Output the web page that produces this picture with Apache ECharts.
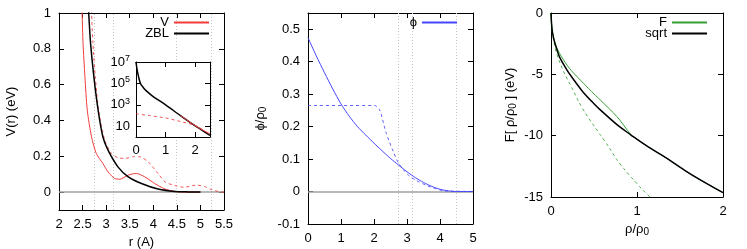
<!DOCTYPE html>
<html>
<head>
<meta charset="utf-8">
<script src="https://cdn.jsdelivr.net/npm/echarts@6/dist/echarts.min.js"></script>
<style>
html, body { margin: 0; padding: 0; background: #fff; }
#chart { width: 747px; height: 249px; }
</style>
</head>
<body>
<div id="chart"></div>
<script>
const FONT = 'Liberation Sans, Arial, sans-serif';

// left panel: pair potential V(r), ZBL and fitted curve (dashed)
const rTicks = [2, 2.5, 3, 3.5, 4, 4.5, 5, 5.5];
const vTicks = [0, 0.2, 0.4, 0.6, 0.8, 1];
const guideR = [2.74, 3.16, 4.49, 5.23];

const vR = [2.45, 2.49, 2.51, 2.55, 2.60, 2.69, 2.79, 2.93, 3.04, 3.18, 3.29, 3.47, 3.64, 3.82, 4.03, 4.25, 4.46, 4.67, 5.0];
const vVal = [1.35, 1.0, 0.83, 0.643, 0.457, 0.309, 0.216, 0.16, 0.113, 0.076, 0.072, 0.095, 0.104, 0.085, 0.048, 0.017, 0.004, 0.0, 0.0];

const zblR = [2.58, 2.63, 2.67, 2.74, 2.83, 2.93, 3.04, 3.25, 3.47, 3.75, 4.1, 4.46, 4.75, 5.0];
const zblVal = [1.25, 1.0, 0.83, 0.643, 0.457, 0.309, 0.234, 0.141, 0.085, 0.048, 0.017, 0.003, 0.001, 0];

const vFitR = [2.65, 2.69, 2.72, 2.77, 2.84, 2.97, 3.11, 3.25, 3.4, 3.6, 3.72, 3.89, 4.1, 4.25, 4.46, 4.65, 4.92, 5.1, 5.22, 5.4, 5.5];
const vFitVal = [1.25, 1.0, 0.83, 0.643, 0.457, 0.29, 0.216, 0.192, 0.188, 0.198, 0.197, 0.169, 0.104, 0.057, 0.036, 0.027, 0.039, 0.03, 0.015, 0.002, 0];

// inset (log scale)
const insTicks = [0, 1, 2];
const insZblR = [0, 0.03, 0.08, 0.15, 0.25, 0.35, 0.58, 1.0, 1.5, 2.0, 2.25, 2.5];
const insZbl = [1e7, 2.5e6, 5e5, 1e5, 4e4, 2e4, 6e3, 1e3, 100, 11, 4, 1.4];
const insVR = [1.5, 2.0, 2.25, 2.5];
const insV = [100, 11.5, 4.5, 2.0];
const insFitR = [0, 0.5, 1.0, 1.5, 2.0, 2.25, 2.5];
const insFit = [150, 95, 60, 28, 12, 5, 1.6];
const insLogTicks = [10, 1e3, 1e5, 1e7];

// middle panel: phi / rho0
const phiXTicks = [0, 1, 2, 3, 4, 5];
const phiYTicks = [-0.1, 0, 0.1, 0.2, 0.3, 0.4, 0.5];
const phiR = [0, 0.25, 0.5, 0.75, 1, 1.25, 1.5, 1.75, 2, 2.25, 2.5, 2.75, 3, 3.25, 3.5, 3.75, 4, 4.25, 4.5, 5];
const phiVal = [0.474, 0.418, 0.366, 0.316, 0.27, 0.232, 0.2, 0.174, 0.149, 0.125, 0.102, 0.081, 0.061, 0.043, 0.028, 0.016, 0.007, 0.002, 0, 0];
const phiFitR = [0, 2.02, 2.17, 2.37, 2.58, 2.73, 2.9, 3.08, 3.3, 3.59, 3.8, 3.99, 4.1, 5];
const phiFitVal = [0.265, 0.265, 0.252, 0.18, 0.124, 0.09, 0.066, 0.047, 0.033, 0.019, 0.011, 0.005, 0.002, 0];

// right panel: embedding function F
const rhoTicks = [0, 1, 2];
const fTicks = [-15, -10, -5, 0];
const rho = [0, 0.01, 0.03, 0.06, 0.1, 0.186, 0.25, 0.379, 0.5, 0.573, 0.767, 0.93, 0.96, 1.15, 1.349, 1.55, 1.736, 2];
const sqrtVal = [0, -1.2, -2.05, -2.8, -3.6, -4.65, -5.3, -6.5, -7.4, -7.9, -9.1, -9.95, -10.1, -11.0, -11.85, -12.8, -13.6, -14.65];
const fVal = [0, -1.2, -2.0, -2.7, -3.3, -4.25, -4.8, -5.74, -6.6, -7.09, -8.45, -9.93, -10.1, -11.0, -11.85, -12.8, -13.6, -14.65];
const rhoFit = [0, 0.01, 0.02, 0.05, 0.1, 0.166, 0.25, 0.32, 0.4, 0.5, 0.573, 0.67, 0.767, 0.86, 0.96, 1.05, 1.15];
const fFitVal = [0, -1.3, -1.8, -2.9, -4.0, -5.06, -6.2, -7.2, -8.17, -9.2, -9.93, -10.9, -11.97, -12.8, -13.6, -14.3, -15];

const RED = '#f03c3c';
const BLUE = '#4646ff';
const GREEN = '#34a034';

const zip = (xs, ys) => xs.map((x, i) => [x, ys[i]]);
const sub = { fontFamily: FONT, fontSize: 10, color: '#000', padding: [6, 0, 0, 0] };
const sup = { fontFamily: FONT, fontSize: 9, color: '#000', padding: [0, 0, 7, 0] };

// a pair of axes (labelled + mirrored) so ticks show on all four sides, like gnuplot
function frame(isX, gridIndex, min, max, ticks, extra, labelExtra) {
  const common = {
    type: 'value', gridIndex, min, max,
    axisLine: { show: true, onZero: false, lineStyle: { color: '#000', width: 1 } },
    axisTick: { show: true, inside: true, length: 5, customValues: ticks, lineStyle: { color: '#000' } },
    splitLine: { show: false }
  };
  const main = Object.assign({}, common, {
    position: isX ? 'bottom' : 'left',
    axisLabel: Object.assign({ customValues: ticks, color: '#000', fontFamily: FONT, fontSize: 13, margin: 8 }, labelExtra || {})
  }, extra || {});
  const mirror = Object.assign({}, common, {
    position: isX ? 'top' : 'right',
    axisLabel: { show: false }
  }, extra && extra.z ? { z: extra.z } : {});
  return [main, mirror];
}

// panel p uses axes 2p (labelled) and 2p+1 (mirror)
function line(name, xs, ys, panel, color, width, dashed, z) {
  return {
    name, type: 'line', xAxisIndex: panel * 2, yAxisIndex: panel * 2,
    data: zip(xs, ys), symbol: 'none', showSymbol: false,
    smooth: 0.25, silent: true, animation: false,
    lineStyle: { color, width, type: dashed ? [3, 3] : 'solid', opacity: dashed ? 0.85 : 1 },
    itemStyle: { color }, z: z || 2
  };
}

const nameStyle = { fontFamily: FONT, fontSize: 13, color: '#000', rich: { sub } };

const xAxes = [].concat(
  frame(true, 0, 2, 5.5, rTicks, { name: 'r (A)', nameLocation: 'middle', nameGap: 25, nameTextStyle: nameStyle }),
  frame(true, 1, 0, 2.5, insTicks, { z: 4 }, { margin: 7 }),
  frame(true, 2, 0, 5, phiXTicks),
  frame(true, 3, 0, 2, rhoTicks, { name: 'ρ/ρ{sub|0}', nameLocation: 'middle', nameGap: 23, nameTextStyle: nameStyle })
);
const yAxes = [].concat(
  frame(false, 0, -0.1, 1, vTicks, { name: 'V(r) (eV)', nameLocation: 'middle', nameGap: 41, nameRotate: 90, nameTextStyle: nameStyle }),
  (function () {
    const pair = frame(false, 1, 1, 1e7, insLogTicks, { z: 4 }, {
      formatter: v => v === 10 ? '10' : '10{sup|' + Math.round(Math.log10(v)) + '}',
      rich: { sup }, margin: 6
    });
    pair.forEach(a => { a.type = 'log'; a.logBase = 10; });
    return pair;
  })(),
  frame(false, 2, -0.1, 0.55, phiYTicks, { name: 'ϕ/ρ{sub|0}', nameLocation: 'middle', nameGap: 40, nameRotate: 90, nameTextStyle: nameStyle }),
  frame(false, 3, -15, 0, fTicks, { name: 'F[ ρ/ρ{sub|0} ] (eV)', nameLocation: 'middle', nameGap: 33, nameRotate: 90, nameTextStyle: nameStyle })
);

const guideLine = r => ({ xAxis: r, lineStyle: { color: '#c8c8c8', type: [1, 2], width: 1 } });
const zeroLine = { yAxis: 0, lineStyle: { color: '#a0a0a0', type: 'solid', width: 1.5 } };
const guides = list => ({
  silent: true, symbol: 'none', label: { show: false }, animation: false, z: 1,
  data: list.map(guideLine).concat([zeroLine])
});

const series = [
  Object.assign(line('V', vR, vVal, 0, RED, 1, false), { markLine: guides(guideR) }),
  line('V fit', vFitR, vFitVal, 0, RED, 1, true),
  line('ZBL', zblR, zblVal, 0, '#000', 1.5, false),
  line('ZBL log', insZblR, insZbl, 1, '#000', 1.5, false, 5),
  line('V log', insVR, insV, 1, RED, 1, false, 5),
  line('V fit log', insFitR, insFit, 1, RED, 1, true, 5),
  Object.assign(line('ϕ', phiR, phiVal, 2, BLUE, 1, false), { markLine: guides(guideR.filter(r => r <= 5)) }),
  line('ϕ fit', phiFitR, phiFitVal, 2, BLUE, 1, true),
  line('F fit', rhoFit, fFitVal, 3, GREEN, 1, true),
  line('F', rho, fVal, 3, GREEN, 1, false),
  line('sqrt', rho, sqrtVal, 3, '#000', 1.5, false)
];

const legendBase = {
  orient: 'vertical', align: 'right', selectedMode: false, padding: 0,
  itemWidth: 35, itemHeight: 10, itemGap: 0,
  itemStyle: { opacity: 0 },
  textStyle: { fontFamily: FONT, fontSize: 13, color: '#000' }
};

const chart = echarts.init(document.getElementById('chart'));
chart.setOption({
  animation: false,
  backgroundColor: '#fff',
  grid: [
    { left: 59, top: 13, width: 165, height: 197, outerBoundsMode: 'none' },
    { left: 136, top: 62, width: 74, height: 75, show: true, backgroundColor: '#fff', borderWidth: 0, z: 3, outerBoundsMode: 'none' },
    { left: 308, top: 13, width: 165, height: 211, outerBoundsMode: 'none' },
    { left: 551, top: 13, width: 172, height: 184, outerBoundsMode: 'none' }
  ],
  legend: [
    Object.assign({}, legendBase, { data: ['V'], right: 537, top: 16 }),
    Object.assign({}, legendBase, { data: ['ZBL'], right: 537, top: 27 }),
    Object.assign({}, legendBase, { data: ['ϕ'], right: 289, top: 16 }),
    Object.assign({}, legendBase, { data: ['F'], right: 39, top: 16 }),
    Object.assign({}, legendBase, { data: ['sqrt'], right: 39, top: 27 })
  ],
  xAxis: xAxes,
  yAxis: yAxes,
  series
});
</script>
</body>
</html>
